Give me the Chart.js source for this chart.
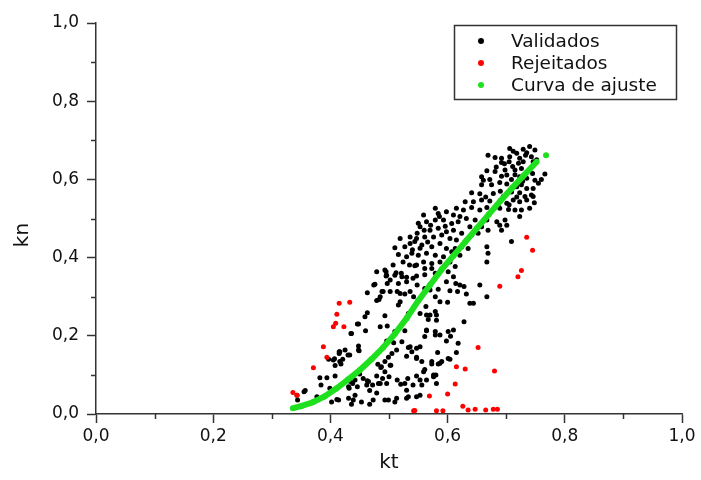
<!DOCTYPE html>
<html>
<head>
<meta charset="utf-8">
<script src="https://cdn.jsdelivr.net/npm/chart.js@4.4.1/dist/chart.umd.min.js"></script>
<style>
  html, body { margin: 0; padding: 0; background: #fff; }
  canvas { display: block; }
</style>
</head>
<body>
<canvas id="kChart" width="701" height="480"></canvas>
<script>
// Validados (black)
const validadosKt = [
  0.495,0.495,0.512,0.521,0.530,0.547,0.548,0.474,0.497,0.463,0.490,0.514,0.527,0.483,0.463,0.493,0.516,0.533,
  0.446,0.485,0.497,0.435,0.460,0.510,0.527,0.496,0.508,0.448,0.449,0.416,0.433,0.533,0.539,0.547,0.397,0.421,
  0.418,0.499,0.493,0.503,0.530,0.547,0.481,0.486,0.493,0.408,0.382,0.394,0.408,0.450,0.456,0.463,0.479,0.489,
  0.500,0.514,0.532,0.547,0.384,0.431,0.438,0.446,0.462,0.472,0.485,0.496,0.520,0.527,0.541,0.357,0.343,0.377,
  0.442,0.467,0.479,0.344,0.411,0.402,0.431,0.453,0.467,0.493,0.510,0.530,0.547,0.436,0.355,0.407,0.415,0.416,
  0.430,0.399,0.414,0.432,
  0.561,0.579,0.601,0.610,0.598,0.614,0.621,0.628,0.655,0.561,0.570,0.584,0.604,0.617,0.632,0.667,0.579,0.587,
  0.600,0.638,0.644,0.563,0.553,0.564,0.579,0.581,0.567,0.581,0.628,0.564,0.579,0.610,0.561,0.579,0.605,0.598,
  0.618,0.553,0.583,0.615,0.604,0.556,0.573,0.584,0.590,0.561,0.580,0.576,0.564,0.553,0.556,0.553,
  0.706,0.718,0.729,0.740,0.749,0.735,0.669,0.681,0.692,0.706,0.723,0.743,0.692,0.705,0.721,0.729,0.746,0.667,
  0.681,0.698,0.715,0.726,0.740,0.766,0.658,0.661,0.701,0.709,0.723,0.735,0.749,0.755,0.658,0.675,0.689,0.701,
  0.718,0.726,0.735,0.746,0.641,0.655,0.678,0.695,0.709,0.723,0.732,0.746,0.630,0.644,0.658,0.672,0.686,0.701,
  0.712,0.723,0.735,0.743,0.615,0.627,0.641,0.655,0.667,0.689,0.704,0.715,0.726,0.740,0.723,0.579,0.584,0.598,
  0.610,0.621,0.632,0.647,0.667,0.684,0.698,0.559,0.564,0.579,0.593,0.607,0.618,0.638,0.658,0.669,0.689,0.701,
  0.553,0.570,0.584,0.598,0.610,0.624,0.641,0.652,0.692,0.561,0.576,0.590,0.604,0.615,0.632,0.709,0.556,0.573,
  0.587,0.598,0.613,0.624,0.635,0.667,0.564,0.579,0.593,0.607,0.621,0.669,0.559,0.573,0.587,0.604,0.667,0.561,
  0.573,0.613,
  0.550,0.519,0.510,0.527,0.536,0.547,0.516,0.530,0.539,0.550,0.507,0.524,0.535,0.547,0.493,0.544,0.544,
  0.479,0.496,0.510,0.522,0.541,0.476,0.502,0.516,0.530,0.488,0.502,0.519,0.536,0.542,0.485,0.519,0.553,0.536,
  0.712,0.733,0.752,0.697,0.683,0.711,0.745,0.692,0.715,0.672,0.728,0.760,0.707,0.690,0.665,0.718,0.748,0.705,
  0.560,0.548,0.571,0.566,0.540,0.586,0.596,
  0.564,0.570,0.587,0.601,0.547,0.573,0.587,0.601,0.559,0.576,0.581,0.530,0.513,0.499,0.473,0.439,0.533,
  0.436,0.448,0.459,0.479,0.415,0.425,0.448,0.405,0.434,0.442,0.465,0.482,0.487,0.502,0.505,0.513,0.522,0.536
];
const validadosKn = [
  0.364,0.353,0.361,0.360,0.350,0.353,0.330,0.330,0.334,0.310,0.313,0.313,0.307,0.293,0.259,0.251,0.279,0.257,
  0.230,0.223,0.225,0.206,0.213,0.211,0.213,0.187,0.182,0.174,0.162,0.159,0.151,0.170,0.159,0.168,0.140,0.140,
  0.128,0.145,0.134,0.125,0.148,0.145,0.127,0.119,0.108,0.124,0.093,0.093,0.097,0.102,0.091,0.085,0.097,0.091,
  0.095,0.087,0.091,0.097,0.074,0.070,0.078,0.070,0.074,0.074,0.078,0.078,0.076,0.078,0.074,0.060,0.048,0.044,
  0.048,0.060,0.054,0.036,0.037,0.031,0.040,0.031,0.025,0.036,0.031,0.040,0.044,0.025,0.057,0.141,0.159,0.134,
  0.151,0.066,0.036,0.066,
  0.356,0.360,0.364,0.351,0.338,0.334,0.330,0.326,0.330,0.321,0.317,0.319,0.315,0.313,0.307,0.300,0.300,0.287,
  0.286,0.283,0.283,0.275,0.257,0.253,0.262,0.253,0.242,0.240,0.236,0.213,0.211,0.215,0.198,0.202,0.199,0.187,
  0.181,0.172,0.157,0.157,0.140,0.134,0.128,0.128,0.134,0.114,0.100,0.095,0.087,0.087,0.074,0.048,
  0.679,0.667,0.677,0.684,0.675,0.668,0.662,0.656,0.654,0.658,0.654,0.658,0.643,0.645,0.641,0.645,0.645,0.622,
  0.620,0.624,0.624,0.628,0.624,0.614,0.607,0.598,0.611,0.600,0.607,0.603,0.598,0.590,0.586,0.586,0.592,0.588,
  0.581,0.586,0.577,0.577,0.566,0.563,0.564,0.556,0.568,0.566,0.556,0.556,0.543,0.543,0.547,0.545,0.534,0.539,
  0.547,0.543,0.547,0.560,0.526,0.522,0.528,0.522,0.528,0.526,0.523,0.522,0.522,0.526,0.505,0.526,0.513,0.517,
  0.509,0.505,0.500,0.496,0.496,0.492,0.496,0.509,0.492,0.496,0.496,0.487,0.492,0.479,0.479,0.470,0.483,0.483,
  0.479,0.470,0.475,0.466,0.470,0.462,0.458,0.462,0.470,0.453,0.453,0.458,0.449,0.445,0.445,0.441,0.432,0.428,
  0.436,0.423,0.423,0.428,0.423,0.428,0.411,0.406,0.402,0.415,0.406,0.411,0.389,0.385,0.389,0.389,0.389,0.372,
  0.372,0.377,
  0.488,0.449,0.425,0.428,0.436,0.449,0.408,0.402,0.411,0.406,0.381,0.389,0.381,0.381,0.368,0.441,0.379,
  0.364,0.355,0.355,0.351,0.347,0.332,0.343,0.334,0.338,0.313,0.313,0.308,0.313,0.300,0.300,0.287,0.424,0.453,
  0.672,0.662,0.650,0.640,0.632,0.633,0.615,0.608,0.612,0.600,0.595,0.600,0.573,0.570,0.555,0.555,0.540,0.535,
  0.470,0.462,0.483,0.440,0.420,0.505,0.480,
  0.215,0.253,0.202,0.211,0.142,0.134,0.130,0.142,0.108,0.100,0.078,0.061,0.040,0.036,0.036,0.036,0.044,
  0.206,0.230,0.249,0.290,0.155,0.164,0.164,0.138,0.083,0.087,0.083,0.078,0.121,0.125,0.155,0.164,0.185,0.172
];

// Rejeitados (red)
const rejeitadosKt = [
  0.336,0.343,0.371,0.388,0.394,0.405,0.409,0.423,0.411,0.415,0.433,0.542,0.544,
  0.720,0.726,0.689,0.735,0.745,0.652,0.615,0.630,0.680,0.613,0.600,0.569,
  0.626,0.635,0.647,0.665,0.678,0.685,0.581,0.592
];
const rejeitadosKn = [
  0.055,0.048,0.118,0.172,0.145,0.223,0.232,0.223,0.255,0.283,0.286,0.008,0.009,
  0.351,0.367,0.327,0.452,0.419,0.170,0.121,0.115,0.110,0.077,0.051,0.046,
  0.020,0.010,0.012,0.010,0.012,0.012,0.008,0.008
];

// Curva de ajuste (green)
const ajusteKt = [0.336,0.35,0.37,0.39,0.41,0.43,0.45,0.47,0.49,0.51,0.53,0.55,0.57,0.59,0.61,0.63,0.65,0.67,0.69,0.71,0.73,0.752,0.768];
const ajusteKn = [0.015,0.020,0.030,0.045,0.065,0.088,0.112,0.140,0.170,0.205,0.245,0.290,0.330,0.370,0.405,0.440,0.475,0.510,0.545,0.578,0.610,0.645,0.662];

const toPoints = (xs, ys) => xs.map((x, i) => ({ x: x, y: ys[i] }));

const axisColor = '#333';
const green = '#1fe01f';
const fmt = v => v.toFixed(1).replace('.', ',');

// minor ticks, axis titles and boxed legend
const extras = {
  id: 'extras',
  afterDraw(chart) {
    const ctx = chart.ctx;
    const xs = chart.scales.x, ys = chart.scales.y;
    const a = chart.chartArea;
    ctx.save();
    ctx.strokeStyle = axisColor;
    ctx.lineWidth = 1.5;
    for (let v = 0.1; v < 1; v += 0.2) {
      const px = Math.round(xs.getPixelForValue(v)) + 0.5;
      ctx.beginPath(); ctx.moveTo(px, a.bottom); ctx.lineTo(px, a.bottom + 5); ctx.stroke();
      const py = Math.round(ys.getPixelForValue(v)) + 0.5;
      ctx.beginPath(); ctx.moveTo(a.left, py); ctx.lineTo(a.left - 5, py); ctx.stroke();
    }

    ctx.fillStyle = '#111';
    ctx.font = '20px "DejaVu Sans"';
    ctx.textAlign = 'center';
    ctx.textBaseline = 'middle';
    ctx.fillText('kt', (a.left + a.right) / 2, 463);
    ctx.translate(23, 235);
    ctx.rotate(-Math.PI / 2);
    ctx.fillText('kn', 0, 0);
    ctx.restore();

    // legend
    ctx.save();
    ctx.strokeStyle = axisColor;
    ctx.lineWidth = 1.5;
    ctx.strokeRect(454.5, 25.5, 222, 74);
    ctx.font = '18.5px "DejaVu Sans"';
    ctx.textAlign = 'left';
    ctx.textBaseline = 'middle';
    chart.data.datasets.forEach((ds, i) => {
      const y = 41 + i * 22;
      ctx.fillStyle = ds.backgroundColor;
      ctx.beginPath(); ctx.arc(481, y, 3, 0, Math.PI * 2); ctx.fill();
      ctx.fillStyle = '#111';
      ctx.fillText(ds.label, 511, y + 1);
    });
    ctx.restore();
  }
};

const lastSeg = ajusteKt.length - 2;

new Chart(document.getElementById('kChart'), {
  type: 'scatter',
  data: {
    datasets: [
      {
        label: 'Validados',
        data: toPoints(validadosKt, validadosKn),
        backgroundColor: '#000',
        borderWidth: 0,
        pointRadius: 2.5,
        order: 2
      },
      {
        label: 'Rejeitados',
        data: toPoints(rejeitadosKt, rejeitadosKn),
        backgroundColor: '#ff0000',
        borderWidth: 0,
        pointRadius: 2.5,
        order: 1
      },
      {
        label: 'Curva de ajuste',
        data: toPoints(ajusteKt, ajusteKn),
        backgroundColor: green,
        borderColor: green,
        borderWidth: 6,
        showLine: true,
        pointRadius: 3,
        pointBorderWidth: 0,
        segment: {
          borderColor: c => c.p0DataIndex === lastSeg ? 'rgba(0,0,0,0)' : green
        },
        order: 0
      }
    ]
  },
  options: {
    responsive: false,
    animation: false,
    events: [],
    layout: { padding: { top: 23, right: 19, left: 0, bottom: 0 } },
    plugins: { legend: { display: false }, tooltip: { enabled: false } },
    scales: {
      x: {
        type: 'linear',
        min: 0, max: 1,
        ticks: { stepSize: 0.2, callback: fmt, color: '#111', padding: 3, font: { family: 'DejaVu Sans', size: 17 } },
        grid: { drawOnChartArea: false, drawTicks: true, tickLength: 9, tickWidth: 1.5, tickColor: axisColor },
        border: { display: true, color: axisColor, width: 1.5 },
        afterFit: s => { s.height = 66; }
      },
      y: {
        type: 'linear',
        min: 0, max: 1,
        ticks: { stepSize: 0.2, callback: fmt, color: '#111', padding: 8, font: { family: 'DejaVu Sans', size: 17 } },
        grid: { drawOnChartArea: false, drawTicks: true, tickLength: 9, tickWidth: 1.5, tickColor: axisColor },
        border: { display: true, color: axisColor, width: 1.5 },
        afterFit: s => { s.width = 96; }
      }
    }
  },
  plugins: [extras]
});
</script>
</body>
</html>
